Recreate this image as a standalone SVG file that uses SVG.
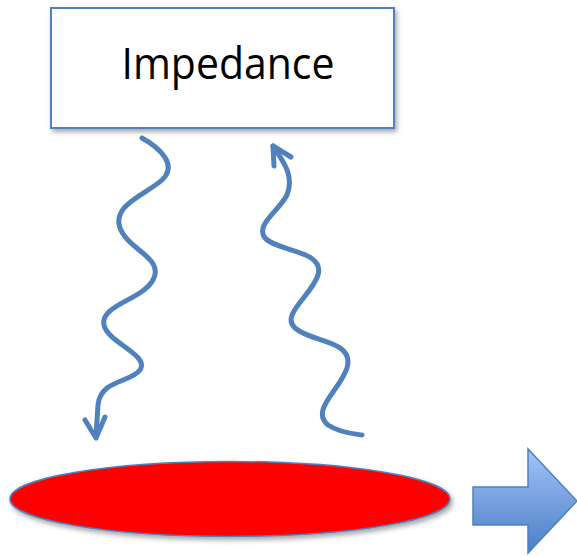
<svg xmlns="http://www.w3.org/2000/svg" width="577" height="556" viewBox="0 0 577 556">
<defs>
<style>
.wave{fill:none;stroke:#4F81BD;stroke-width:5;stroke-linecap:round;stroke-linejoin:round}
.lbl{font-family:"Open Sans","Liberation Sans",sans-serif;font-size:43px;fill:#000}
</style>
<filter id="sh" x="-10%" y="-20%" width="125%" height="150%">
<feDropShadow dx="2" dy="3" stdDeviation="2.5" flood-color="#000" flood-opacity="0.35"/>
</filter>
<linearGradient id="ag" x1="0" y1="0" x2="0" y2="1">
<stop offset="0" stop-color="#A3C4F5"/>
<stop offset="1" stop-color="#4A7DC9"/>
</linearGradient>
</defs>
<g id="impedance">
<rect x="51" y="8" width="343" height="120" fill="#fff" stroke="#4F81BD" stroke-width="2" filter="url(#sh)"/>
<text class="lbl" x="228" y="79" text-anchor="middle" textLength="213" lengthAdjust="spacingAndGlyphs">Impedance</text>
</g>
<g id="particle">
<ellipse cx="230" cy="499" rx="220" ry="37.5" fill="#FF0000" stroke="#4F81BD" stroke-width="1.5" filter="url(#sh)"/>
</g>
<g id="motion">
<path d="M473,487 H528 V449 L577,501 L528,553 V525 H473 Z" fill="url(#ag)" stroke="#4F81BD" stroke-width="1.5"/>
</g>
<g id="connectors">
<path class="wave" d="M142,138 C160,148 178,165 162,180 C145,195 112,205 120,228 C128,250 165,258 153,280 C142,300 100,305 104,325 C108,343 150,355 140,370 C130,383 100,380 98,405 L96,437"/>
<path class="wave" d="M85,420 L96,438 L105,417"/>
<path class="wave" d="M273,146 C282,160 295,175 287,195 C278,212 255,225 265,238 C278,252 325,250 318,275 C312,295 280,315 295,328 C312,343 355,340 347,368 C340,390 310,410 328,425 C340,433 355,434 362,435"/>
<path class="wave" d="M274,166 L273,146 L291,157"/>
</g>
</svg>
